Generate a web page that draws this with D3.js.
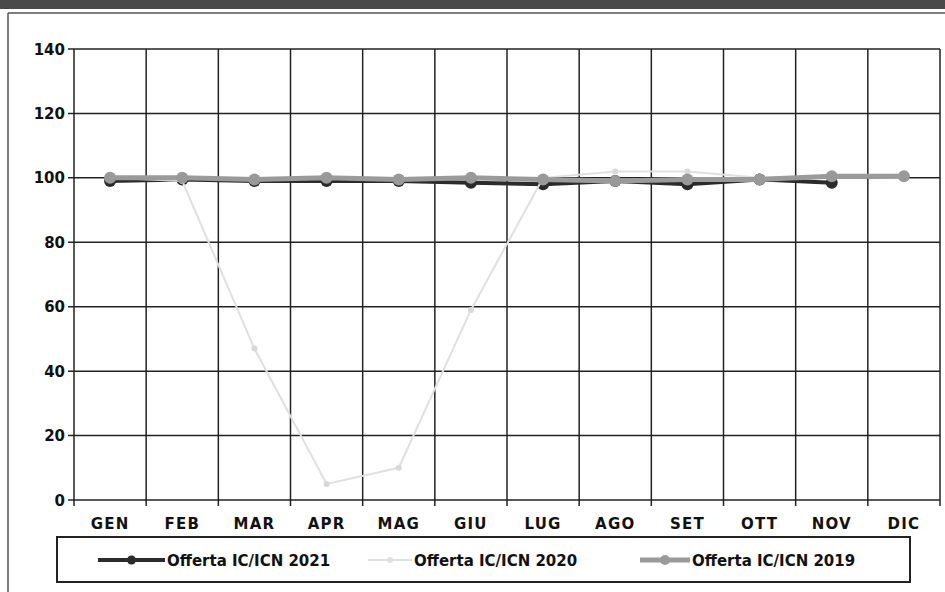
<!DOCTYPE html>
<html><head><meta charset="utf-8">
<script src="https://cdn.jsdelivr.net/npm/d3@7"></script>
<style>body{margin:0;background:#fff}svg{display:block}</style>
</head><body>
<svg id="c" width="945" height="592"></svg>
<script>
const months = ["GEN","FEB","MAR","APR","MAG","GIU","LUG","AGO","SET","OTT","NOV","DIC"];
const yTicks = [0,20,40,60,80,100,120,140];
const s2021 = [99,99.5,99,99,99,98.5,98,99,98,99.5,98.5,null];
const s2020 = [100,99,47,5,10,59,100,102,102,100,100.5,100];
const s2019 = [100,100,99.5,100,99.5,100,99.5,99,99.5,99.5,100.5,100.5];
const seriesNames = ["Offerta IC/ICN 2021","Offerta IC/ICN 2020","Offerta IC/ICN 2019"];

const svg = d3.select("#c");
const L=74,R=940,T=49,B=500;
const x = d3.scaleBand().domain(months).range([L,R]);
const y = d3.scaleLinear().domain([0,140]).range([B,T]);

// scan-like top strip and frame
svg.append("rect").attr("x",0).attr("y",0).attr("width",945).attr("height",9).attr("fill","#4a4a4a");
svg.append("line").attr("x1",8).attr("x2",945).attr("y1",13).attr("y2",13).attr("stroke","#555").attr("stroke-width",1.5);
svg.append("line").attr("x1",8).attr("x2",8).attr("y1",13).attr("y2",592).attr("stroke","#555").attr("stroke-width",1.5);

// horizontal grid
svg.append("g").selectAll("line").data(yTicks).join("line")
  .attr("x1",L-6).attr("x2",R).attr("y1",d=>y(d)).attr("y2",d=>y(d))
  .attr("stroke","#222").attr("stroke-width",1.5);
// vertical grid
const vx = months.map(m=>x(m)).concat([R]);
svg.append("g").selectAll("line").data(vx).join("line")
  .attr("x1",d=>d).attr("x2",d=>d).attr("y1",T).attr("y2",B+6)
  .attr("stroke","#222").attr("stroke-width",1.5);

// axes labels
svg.append("g").selectAll("text").data(yTicks).join("text")
  .attr("x",L-9).attr("y",d=>y(d)+5.5).attr("text-anchor","end")
  .attr("font-family","DejaVu Sans").attr("font-weight","bold").attr("font-size",15).attr("fill","#111")
  .text(d=>d);
svg.append("g").selectAll("text").data(months).join("text")
  .attr("x",d=>x(d)+x.bandwidth()/2).attr("y",529).attr("text-anchor","middle")
  .attr("font-family","DejaVu Sans").attr("font-weight","bold").attr("font-size",15).attr("letter-spacing",1.2).attr("fill","#111")
  .text(d=>d);

const cx = d=>x(d)+x.bandwidth()/2;
function drawSeries(vals,color,width,r,markerColor){
  const pts = months.map((m,i)=>({m,v:vals[i]})).filter(p=>p.v!=null);
  const line = d3.line().x(p=>cx(p.m)).y(p=>y(p.v));
  svg.append("path").attr("d",line(pts)).attr("fill","none").attr("stroke",color).attr("stroke-width",width);
  svg.append("g").selectAll("circle").data(pts).join("circle")
    .attr("cx",p=>cx(p.m)).attr("cy",p=>y(p.v)).attr("r",r).attr("fill",markerColor);
}
drawSeries(s2021,"#2b2b2b",4,6,"#2b2b2b");
drawSeries(s2020,"#e0e0e0",2,3,"#d8d8d8");
drawSeries(s2019,"#9a9a9a",5,6,"#999");

// legend
const lg = svg.append("g");
lg.append("rect").attr("x",57).attr("y",537).attr("width",853).attr("height",45)
  .attr("fill","none").attr("stroke","#222").attr("stroke-width",2);
const legItems = [
  {name:seriesNames[0],x1:98,x2:165,tx:167,color:"#2b2b2b",w:4,r:4.5},
  {name:seriesNames[1],x1:368,x2:412,tx:414,color:"#e0e0e0",w:2,r:3},
  {name:seriesNames[2],x1:640,x2:690,tx:692,color:"#9a9a9a",w:5,r:5}
];
legItems.forEach(it=>{
  lg.append("line").attr("x1",it.x1).attr("x2",it.x2).attr("y1",560).attr("y2",560)
    .attr("stroke",it.color).attr("stroke-width",it.w);
  lg.append("circle").attr("cx",(it.x1+it.x2)/2).attr("cy",560).attr("r",it.r).attr("fill",it.color);
  lg.append("text").attr("x",it.tx).attr("y",566).attr("font-family","DejaVu Sans")
    .attr("font-weight","bold").attr("font-size",15).attr("fill","#111").text(it.name);
});
</script>
</body></html>
